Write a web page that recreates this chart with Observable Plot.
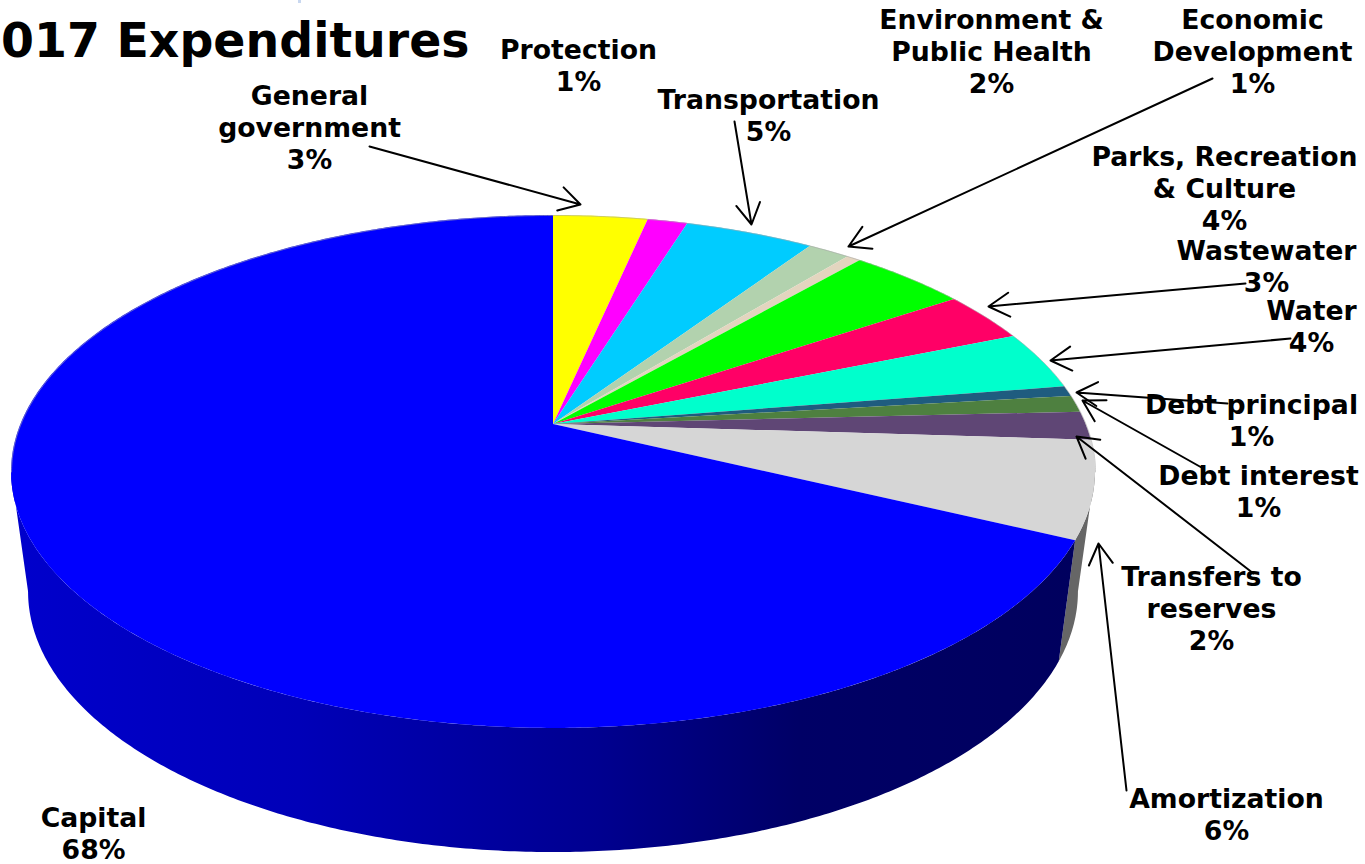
<!DOCTYPE html>
<html>
<head>
<meta charset="utf-8">
<script src="https://cdn.jsdelivr.net/npm/d3@7"></script>
<script src="https://cdn.jsdelivr.net/npm/@observablehq/plot@0.6"></script>
<style>
  html, body { margin: 0; padding: 0; background: #fff; overflow: hidden; }
  svg { display: block; }
</style>
</head>
<body>
<div id="chart"></div>
<script>
// Share of 2017 expenditures by category, clockwise from twelve o'clock.
const categories = ["General government", "Protection", "Transportation", "Environment & Public Health",
  "Economic Development", "Parks, Recreation & Culture", "Wastewater", "Water", "Debt principal",
  "Debt interest", "Transfers to reserves", "Amortization", "Capital"];
const shares = [3.37, 1.43, 4.6, 1.5, 0.5, 4.2, 3.2, 3.7, 0.65, 1.05, 1.8, 6.1, 67.9];
const sliceColors = ["#ffff00", "#ff00ff", "#00ccff", "#b2d2ae", "#e3d5bf", "#00ff00", "#ff0066",
  "#00ffcc", "#1f5c7f", "#4e8040", "#5f4675", "#d6d6d6", "#0000ff"];

// Line-broken label text for each category, in the same order.
const labelLines = ["General\ngovernment", "Protection", "Transportation", "Environment &\nPublic Health",
  "Economic\nDevelopment", "Parks, Recreation\n& Culture", "Wastewater", "Water", "Debt principal",
  "Debt interest", "Transfers to\nreserves", "Amortization", "Capital"];

// Centre of each label block.
const labelX = [309, 578, 768, 991, 1252, 1224, 1266, 1311, 1251, 1258, 1211, 1226, 93];
const labelY = [126, 64, 114, 50, 50, 187, 265, 325, 419, 490, 607, 813, 832];

// Leader arrows: category index, tail and head.
const leaderCategory = [0, 2, 4, 6, 7, 8, 9, 10, 11];
const leaderX1 = [369, 734, 1212, 1245, 1290, 1227, 1201, 1253, 1126];
const leaderY1 = [146, 121, 78, 283, 338, 403, 467, 573, 790];
const leaderX2 = [580, 751, 848, 988, 1050, 1076, 1082, 1076, 1098];
const leaderY2 = [204, 224, 246, 306, 360, 392, 400, 436, 543];

// Perspective of the tilted disc: hub position, radii and foreshortening.
const hub = {x: 553, y: 424};
const disc = {a: 532.6, b: 247.7, k: 0.185};
// Lower face of the disc, relative to the upper face's ellipse centre.
const lower = {cx: 553, cy: 471, sx: 0.9686, sy: 1.016, dy: 120};
// Angles at which the rim reaches its widest point on either side.
const silhouette = Math.acos(-disc.k) * 180 / Math.PI;

const topRim = (deg) => {
  const t = deg * Math.PI / 180, w = 1 + disc.k * Math.cos(t);
  return [hub.x + disc.a * Math.sin(t) / w, hub.y - disc.b * Math.cos(t) / w];
};
const bottomRim = (deg) => {
  const [x, y] = topRim(deg);
  return [lower.cx + lower.sx * (x - lower.cx), lower.cy + lower.dy + lower.sy * (y - lower.cy)];
};

// Angular extent of each slice, from the shares.
const total = d3.sum(shares);
const ends = d3.cumsum(shares).map((s) => s / total * 360);
const starts = ends.map((_, i) => (i ? ends[i - 1] : 0));

const sweep = (a, b) => {
  const n = Math.max(2, Math.ceil((b - a) / 0.5));
  return d3.range(n + 1).map((i) => a + (b - a) * i / n);
};

const topFaces = categories.flatMap((name, i) =>
  sweep(starts[i], ends[i]).map((deg) => {
    const [x, y] = topRim(deg);
    return {name, color: sliceColors[i], x, y};
  })
);

const sideStrip = (a, b) => sweep(a, b).map((deg) => {
  const [x1, y1] = topRim(deg), [x2, y2] = bottomRim(deg);
  return {x1, y1, x2, y2};
});

const capitalIndex = categories.indexOf("Capital");
const amortIndex = categories.indexOf("Amortization");
const capitalSide = sideStrip(starts[capitalIndex], 360 - silhouette);
const amortSide = sideStrip(silhouette, ends[amortIndex]);

// Faint edge along the far side of the disc.
const backEdge = sweep(360 - silhouette, 360 + silhouette).map((deg) => {
  const [x, y] = topRim(deg);
  return {x, y};
});

// Horizontal shading of the capital slice's outer wall.
const wallShade = () => {
  const defs = d3.create("svg:defs");
  const grad = defs.append("linearGradient").attr("id", "wallShade");
  [[0, "#0000cc"], [0.27, "#0000b8"], [0.55, "#000090"], [0.74, "#000066"], [1, "#00005e"]].forEach(([o, c]) =>
    grad.append("stop").attr("offset", o).attr("stop-color", c)
  );
  return defs.node();
};

const labels = categories.map((name, i) => ({
  text: `${labelLines[i]}\n${Math.round(shares[i])}%`,
  x: labelX[i],
  y: labelY[i]
}));
const leaders = leaderCategory.map((c, i) => ({
  name: categories[c], x1: leaderX1[i], y1: leaderY1[i], x2: leaderX2[i], y2: leaderY2[i]
}));

const font = "'DejaVu Sans', Verdana, sans-serif";

const chart = Plot.plot({
  width: 1365,
  height: 864,
  margin: 0,
  style: {background: "#fff", fontFamily: font},
  x: {domain: [0, 1365], range: [0, 1365], axis: null},
  y: {domain: [0, 864], range: [0, 864], axis: null},
  color: {type: "identity"},
  marks: [
    wallShade,
    Plot.rect([{x1: 298, x2: 301, y1: 0, y2: 3}], {x1: "x1", x2: "x2", y1: "y1", y2: "y2", fill: "#c9d8f0"}),
    Plot.area(amortSide, {x1: "x1", y1: "y1", x2: "x2", y2: "y2", fill: "#666666"}),
    Plot.area(capitalSide, {x1: "x1", y1: "y1", x2: "x2", y2: "y2", fill: "url(#wallShade)"}),
    Plot.area(topFaces, {
      x1: () => hub.x, y1: () => hub.y, x2: "x", y2: "y", z: "name", fill: "color"
    }),
    Plot.line(backEdge, {x: "x", y: "y", stroke: "#a8a8a8", strokeWidth: 1, strokeOpacity: 0.6}),
    Plot.arrow(leaders, {
      x1: "x1", y1: "y1", x2: "x2", y2: "y2", bend: 0, stroke: "#000", strokeWidth: 2,
      headLength: 18, headAngle: 60
    }),
    Plot.text(labels, {
      x: "x", y: "y", text: "text", fontSize: 26.7, fontWeight: 700, fill: "#000",
      lineHeight: 1.2, lineAnchor: "middle", textAnchor: "middle", fontFamily: font
    }),
    Plot.text(["2017 Expenditures"], {
      x: () => 469, y: () => 41, text: (d) => d, fontSize: 47.4, fontWeight: 700, fill: "#000",
      textAnchor: "end", lineAnchor: "middle", fontFamily: font
    })
  ]
});
document.getElementById("chart").appendChild(chart);
</script>
</body>
</html>
